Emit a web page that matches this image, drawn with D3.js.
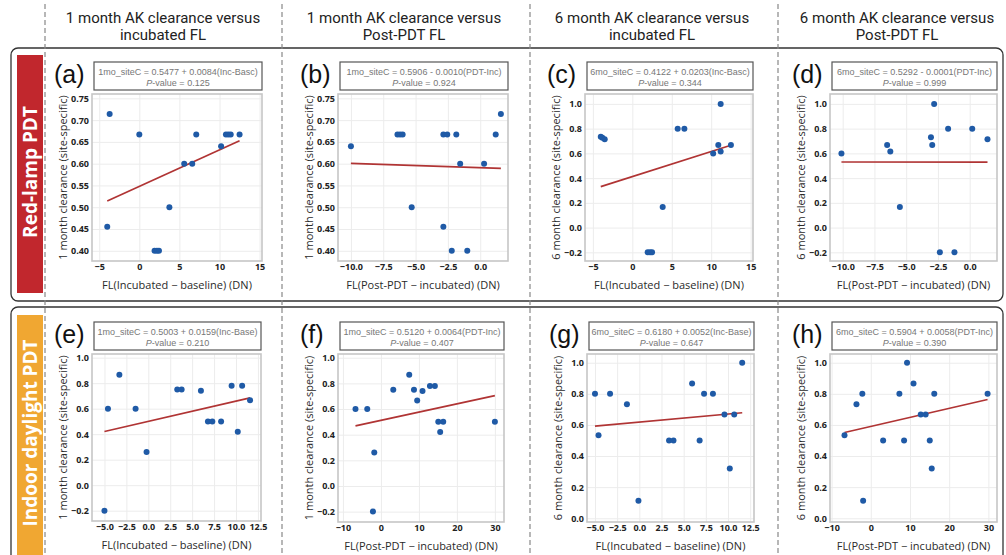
<!DOCTYPE html>
<html lang="en">
<head>
<meta charset="utf-8">
<script src="https://cdn.jsdelivr.net/npm/d3@7"></script>
<style>
  body { margin: 0; background: #fff; }
  svg { display: block; }
  .tick-label { font-family: "Open Sans", sans-serif; font-size: 9px; font-weight: 700; fill: #222; }
  .axis-title { font-family: "Open Sans", sans-serif; font-size: 11px; fill: #2a2a2a; }
  .eq { font-family: "Liberation Sans", Arial, sans-serif; font-size: 9px; fill: #777; }
  .letter { font-family: "Liberation Sans", Arial, sans-serif; font-size: 25px; fill: #111; }
  .header { font-family: Roboto, sans-serif; font-size: 15px; fill: #222; }
  .row-label { font-family: "Open Sans", sans-serif; font-size: 19px; font-weight: 700; fill: #fff; }
</style>
</head>
<body>
<div id="chart"></div>
<script>
// column headers
var headerTop = ["1 month AK clearance versus", "1 month AK clearance versus",
                 "6 month AK clearance versus", "6 month AK clearance versus"];
var headerBottom = ["incubated FL", "Post-PDT FL", "incubated FL", "Post-PDT FL"];
var rowLabels = ["Red-lamp PDT", "Indoor daylight PDT"];

var letters = ["(a)", "(b)", "(c)", "(d)", "(e)", "(f)", "(g)", "(h)"];
var equations = [
  "1mo_siteC = 0.5477 + 0.0084(Inc-Basc)",
  "1mo_siteC = 0.5906 - 0.0010(PDT-Inc)",
  "6mo_siteC = 0.4122 + 0.0203(Inc-Basc)",
  "6mo_siteC = 0.5292 - 0.0001(PDT-Inc)",
  "1mo_siteC = 0.5003 + 0.0159(Inc-Base)",
  "1mo_siteC = 0.5120 + 0.0064(PDT-Inc)",
  "6mo_siteC = 0.6180 + 0.0052(Inc-Base)",
  "6mo_siteC = 0.5904 + 0.0058(PDT-Inc)"
];
var intercepts = [0.5477, 0.5906, 0.4122, 0.5292, 0.5003, 0.5120, 0.6180, 0.5904];
var slopes = [0.0084, -0.0010, 0.0203, -0.0001, 0.0159, 0.0064, 0.0052, 0.0058];
var pValues = ["0.125", "0.924", "0.344", "0.999", "0.210", "0.407", "0.647", "0.390"];

var xTitles = ["FL(Incubated \u2212 baseline) (DN)", "FL(Post-PDT \u2212 incubated) (DN)"];
var yTitles = ["1 month clearance (site-specific)", "6 month clearance (site-specific)"];

// scatter data, one pair of arrays per panel
var xA = [-3.7, -4.0, 0.0, 1.9, 2.2, 2.45, 3.75, 5.6, 6.6, 7.1, 10.2, 10.8, 11.1, 11.4, 12.5];
var yA = [0.714, 0.455, 0.667, 0.40, 0.40, 0.40, 0.50, 0.60, 0.60, 0.667, 0.64, 0.667, 0.667, 0.667, 0.667];

var xB = [-10.0, -6.4, -6.2, -6.0, -5.3, -2.85, -2.55, -1.85, -2.85, -2.2, -1.55, -1.0, 0.3, 1.2, 1.6];
var yB = [0.64, 0.667, 0.667, 0.667, 0.50, 0.667, 0.667, 0.667, 0.455, 0.40, 0.60, 0.40, 0.60, 0.667, 0.714];

var xC = [-4.0, -3.8, -3.5, 1.95, 2.25, 2.5, 3.85, 5.75, 6.6, 10.25, 10.9, 11.2, 11.2, 12.5];
var yC = [0.735, 0.727, 0.714, -0.2, -0.2, -0.2, 0.167, 0.8, 0.8, 0.6, 0.667, 1.0, 0.615, 0.667];

var xD = [-10.1, -6.5, -6.25, -5.5, -3.05, -2.95, -2.8, -2.35, -1.7, -1.2, 0.2, 1.4];
var yD = [0.60, 0.667, 0.615, 0.167, 0.73, 0.667, 1.0, -0.2, 0.8, -0.2, 0.8, 0.714];

var xE = [-5.0, -4.6, -3.3, -1.45, -0.2, 3.3, 3.8, 6.0, 6.8, 7.3, 8.3, 9.5, 10.2, 10.7, 11.6];
var yE = [-0.2, 0.60, 0.867, 0.60, 0.26, 0.75, 0.75, 0.74, 0.50, 0.50, 0.50, 0.78, 0.42, 0.78, 0.667];

var xF = [-6.7, -3.6, -2.1, -1.75, 3.25, 7.45, 8.7, 9.55, 10.95, 12.9, 14.2, 15.1, 15.6, 16.4, 30.0];
var yF = [0.60, 0.60, -0.2, 0.26, 0.75, 0.867, 0.75, 0.667, 0.74, 0.78, 0.78, 0.50, 0.42, 0.50, 0.50];

var xG = [-5.0, -4.6, -3.3, -1.4, -0.1, 3.35, 3.85, 5.95, 6.8, 7.3, 8.3, 9.6, 10.2, 10.7, 11.6];
var yG = [0.80, 0.533, 0.80, 0.733, 0.113, 0.50, 0.50, 0.867, 0.50, 0.80, 0.80, 0.667, 0.32, 0.667, 1.0];

var xH = [-6.7, -3.65, -2.15, -1.95, 3.15, 7.3, 8.5, 9.25, 10.9, 12.75, 14.0, 15.05, 15.55, 16.2, 29.8];
var yH = [0.533, 0.733, 0.80, 0.113, 0.50, 0.80, 0.50, 1.0, 0.867, 0.667, 0.667, 0.50, 0.32, 0.80, 0.80];

var xSeries = [xA, xB, xC, xD, xE, xF, xG, xH];
var ySeries = [yA, yB, yC, yD, yE, yF, yG, yH];

// tick labels
var xTicksInc1 = [-5, 0, 5, 10, 15];
var xTicksPost1 = [-10, -7.5, -5, -2.5, 0];
var xTicksInc2 = [-5, -2.5, 0, 2.5, 5, 7.5, 10, 12.5];
var xTicksPost2 = [-10, 0, 10, 20, 30];
var yTicks1mo = [0.40, 0.45, 0.50, 0.55, 0.60, 0.65, 0.70, 0.75];
var yTicks6moR = [-0.2, 0, 0.2, 0.4, 0.6, 0.8, 1.0];
var yTicks6moD = [0, 0.2, 0.4, 0.6, 0.8, 1.0];

var xTicks = [xTicksInc1, xTicksPost1, xTicksInc1, xTicksPost1, xTicksInc2, xTicksPost2, xTicksInc2, xTicksPost2];
var yTicks = [yTicks1mo, yTicks1mo, yTicks6moR, yTicks6moR, yTicks6moR, yTicks6moR, yTicks6moD, yTicks6moD];
var xFormats = ["d", ".1f", "d", ".1f", ".1f", "d", ".1f", "d"];
var yFormats = [".2f", ".2f", ".1f", ".1f", ".1f", ".1f", ".1f", ".1f"];

// axis ranges of each panel
var xDomains = [[-5.9, 15.3], [-11.0, 2.15], [-6.0, 15.3], [-11.0, 2.15],
                [-6.42, 12.85], [-11.3, 32.4], [-5.9, 12.93], [-10.4, 32.2]];
var yDomains = [[0.3765, 0.760], [0.3765, 0.760], [-0.27, 1.08], [-0.27, 1.08],
                [-0.281, 1.029], [-0.281, 1.029], [-0.024, 1.056], [-0.024, 1.056]];

// plot areas
var layout = [
  {x: 92, y: 94, w: 170, h: 167}, {x: 338, y: 94, w: 170, h: 167},
  {x: 585, y: 94, w: 168, h: 167}, {x: 830, y: 94, w: 167, h: 167},
  {x: 92, y: 354, w: 169, h: 167}, {x: 338, y: 354, w: 166, h: 168},
  {x: 587, y: 354, w: 167, h: 168}, {x: 830, y: 354, w: 167, h: 168}
];

var width = 1006, height = 555;
var svg = d3.select("#chart").append("svg")
  .attr("width", width).attr("height", height);

// row frames and coloured labels
svg.append("rect").attr("x", 11).attr("y", 48).attr("width", 992).attr("height", 253)
  .attr("rx", 7).style("fill", "none").style("stroke", "#333").style("stroke-width", 1.3);
svg.append("rect").attr("x", 11).attr("y", 307).attr("width", 992).attr("height", 300)
  .attr("rx", 7).style("fill", "none").style("stroke", "#333").style("stroke-width", 1.3);

var bars = [{y: 55, h: 238, c: "#c1272d", cy: 172}, {y: 315, h: 250, c: "#f0a732", cy: 433}];
bars.forEach(function(b, i) {
  svg.append("rect").attr("x", 17).attr("y", b.y).attr("width", 26).attr("height", b.h)
    .style("fill", b.c);
  svg.append("text").attr("class", "row-label")
    .attr("transform", "translate(30," + b.cy + ") rotate(-90)")
    .attr("text-anchor", "middle").attr("dy", "0.36em")
    .text(rowLabels[i]);
});

// column separators
[45, 282, 530, 778].forEach(function(x) {
  svg.append("line").attr("x1", x).attr("x2", x).attr("y1", 4).attr("y2", height)
    .style("stroke", "#888").style("stroke-width", 1.2).style("stroke-dasharray", "5,3");
});

// headers
var headerX = [163, 404, 652, 897];
headerX.forEach(function(cx, i) {
  svg.append("text").attr("class", "header").attr("x", cx).attr("y", 23)
    .attr("text-anchor", "middle").text(headerTop[i]);
  svg.append("text").attr("class", "header").attr("x", cx).attr("y", 40)
    .attr("text-anchor", "middle").text(headerBottom[i]);
});

// panels
layout.forEach(function(L, i) {
  var g = svg.append("g").attr("transform", "translate(" + L.x + "," + L.y + ")");
  var x = d3.scaleLinear().domain(xDomains[i]).range([0, L.w]);
  var y = d3.scaleLinear().domain(yDomains[i]).range([L.h, 0]);

  g.append("rect").attr("width", L.w).attr("height", L.h).style("fill", "#fff");

  // grid
  var gx = g.append("g").call(d3.axisBottom(x).tickValues(xTicks[i]).tickSize(L.h).tickFormat(""));
  var gy = g.append("g").call(d3.axisLeft(y).tickValues(yTicks[i]).tickSize(-L.w).tickFormat(""));
  [gx, gy].forEach(function(a) {
    a.select(".domain").remove();
    a.selectAll("line").style("stroke", "#ececec").style("stroke-width", 1);
  });

  g.append("rect").attr("width", L.w).attr("height", L.h)
    .style("fill", "none").style("stroke", "#c6c6c6").style("stroke-width", 1.6);

  // tick labels
  var ax = g.append("g").attr("transform", "translate(0," + L.h + ")")
    .call(d3.axisBottom(x).tickValues(xTicks[i]).tickSize(0).tickPadding(3).tickFormat(d3.format(xFormats[i])));
  var ay = g.append("g")
    .call(d3.axisLeft(y).tickValues(yTicks[i]).tickSize(0).tickPadding(3).tickFormat(d3.format(yFormats[i])));
  [ax, ay].forEach(function(a) {
    a.select(".domain").remove();
    a.selectAll("text").attr("class", "tick-label");
    a.attr("font-family", null).attr("font-size", null);
  });

  // regression line
  var ext = d3.extent(xSeries[i]);
  g.append("line")
    .attr("x1", x(ext[0])).attr("y1", y(intercepts[i] + slopes[i] * ext[0]))
    .attr("x2", x(ext[1])).attr("y2", y(intercepts[i] + slopes[i] * ext[1]))
    .style("stroke", "#b03434").style("stroke-width", 1.7);

  // points
  g.selectAll(".pt").data(d3.zip(xSeries[i], ySeries[i])).enter()
    .append("circle").attr("class", "pt")
    .attr("cx", function(d) { return x(d[0]); })
    .attr("cy", function(d) { return y(d[1]); })
    .attr("r", 3)
    .style("fill", "#1f5aa6");

  // axis titles
  g.append("text").attr("class", "axis-title")
    .attr("x", L.w / 2).attr("y", L.h + 28).attr("text-anchor", "middle")
    .text(xTitles[i % 2]);
  g.append("text").attr("class", "axis-title")
    .attr("transform", "translate(-29," + (L.h / 2) + ") rotate(-90)")
    .attr("text-anchor", "middle").attr("dy", "0.35em")
    .text(yTitles[(i % 4) < 2 ? 0 : 1]);

  // equation box
  g.append("rect").attr("x", 2).attr("y", -32).attr("width", L.w - 2).attr("height", 28)
    .style("fill", "#fff").style("stroke", "#555").style("stroke-width", 1.2);
  g.append("text").attr("class", "eq").attr("x", (L.w + 2) / 2).attr("y", -19)
    .attr("text-anchor", "middle").text(equations[i]);
  var pv = g.append("text").attr("class", "eq").attr("x", (L.w + 2) / 2).attr("y", -8.5)
    .attr("text-anchor", "middle");
  pv.append("tspan").style("font-style", "italic").text("P");
  pv.append("tspan").text("-value = " + pValues[i]);

  // panel letter
  g.append("text").attr("class", "letter").attr("x", -38).attr("y", -11).text(letters[i]);
});
</script>
</body>
</html>
